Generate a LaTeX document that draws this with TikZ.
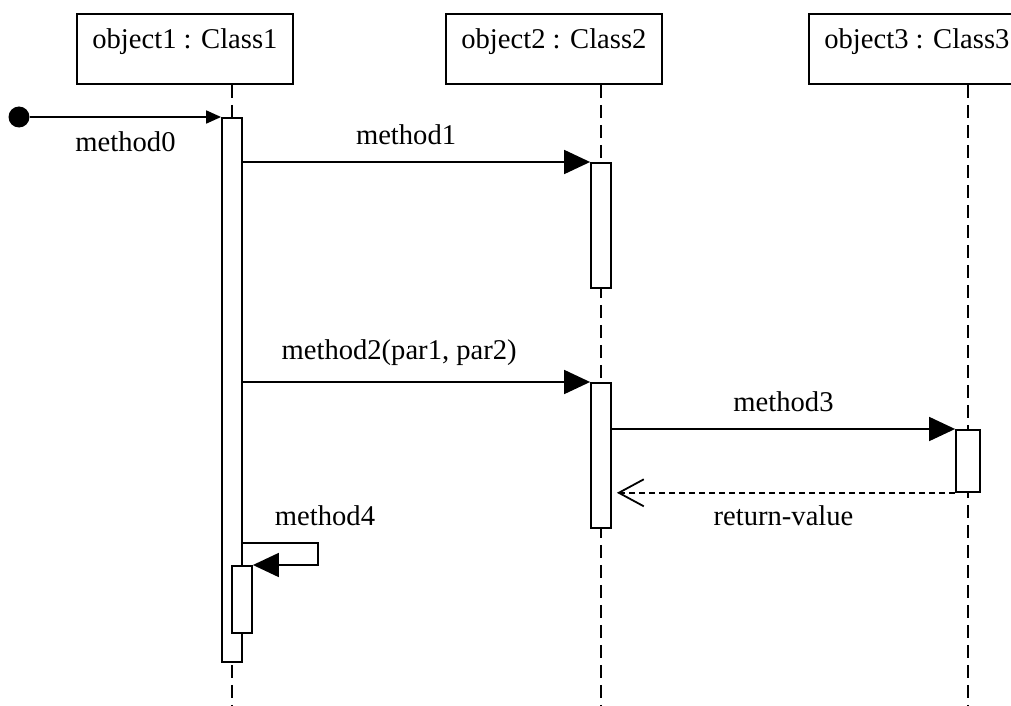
\documentclass[tikz,border=0pt]{standalone}
\usepackage{fontspec}
\setmainfont{Liberation Serif}
\usetikzlibrary{arrows.meta,positioning,calc}
\newcommand{\seqfont}{\fontsize{14.3}{17}\selectfont}
\tikzset{
    objbox/.style={rectangle, draw, line width=0.9pt, anchor=north west,
        minimum width=108pt, inner sep=0pt, text height=17.5pt,
        text depth=17.5pt, font=\seqfont},
    act/.style={rectangle, draw, fill=white, line width=0.9pt,
        anchor=north, minimum width=10pt, inner sep=0pt},
    lifeline/.style={line width=0.9pt, dash pattern=on 6.5pt off 3.5pt},
    msg/.style={line width=0.9pt, -{Triangle[length=13pt,width=12pt]}},
    smsg/.style={line width=0.9pt, -{Triangle[length=7.5pt,width=6.5pt]}},
    ret/.style={line width=0.9pt, dash pattern=on 3pt off 2pt,
        -{Straight Barb[length=12.5pt,width=13.5pt]}},
    lbl/.style={font=\seqfont, inner sep=1pt},
    startdot/.style={circle, fill, inner sep=0pt, minimum size=10.5pt},
}

\begin{document}
\begin{tikzpicture}[x=0.5pt, y=-0.5pt]
\useasboundingbox (0,0) rectangle (1011,706);

% ================================================================
%  Objects and lifelines
% ================================================================
\node[objbox] (o1) at (76,13)  {object1 : Class1};
\node[objbox] (o2) at (445,13) {object2 : Class2};
\node[objbox] (o3) at (808,13) {object3 : Class3};

\coordinate (l1) at (232,706);
\coordinate (l2) at (601,706);
\coordinate (l3) at (968,706);
\draw[lifeline] (o1.south -| l1) -- (l1);
\draw[lifeline] (o2.south -| l2) -- (l2);
\draw[lifeline] (o3.south -| l3) -- (l3);

% ================================================================
%  Activation bars
% ================================================================
\node[act, minimum height=272pt] (a1) at (232,117) {};
\node[act, minimum height=62.5pt] (a2) at (601,162) {};
\node[act, minimum height=72.5pt] (a3) at (601,382) {};
\node[act, minimum height=31pt, minimum width=12pt] (a5) at (968,429) {};
\node[act, minimum height=33.5pt] (a4) at (242,565) {};

% ================================================================
%  Messages
% ================================================================
\node[startdot] (start) at (19,117) {};
\draw[smsg] (start) -- node[lbl, below=6pt] {method0} (a1.north west);

\draw[msg] (a1.east |- a2.north) --
    node[lbl, above=7pt, pos=0.47] {method1} (a2.north west);

\draw[msg] (a1.east |- a3.north) --
    node[lbl, above=7pt, pos=0.45] {method2(par1, par2)} (a3.north west);

\draw[msg] (a3.east |- a5.north) --
    node[lbl, above=7pt] {method3} (a5.north west);

% return (dashed, open head)
\draw[ret, shorten >=2.5pt] (a5.south west) --
    node[lbl, below=5pt] {return-value} (a3.east |- a5.south);

% self call
\coordinate (self) at (318,543);
\draw[msg] (a1.east |- self) --
    node[lbl, above=7pt, pos=1, xshift=3.5pt] {method4} (self) -- (self |- a4.north) -- (a4.north east);

\end{tikzpicture}
\end{document}
